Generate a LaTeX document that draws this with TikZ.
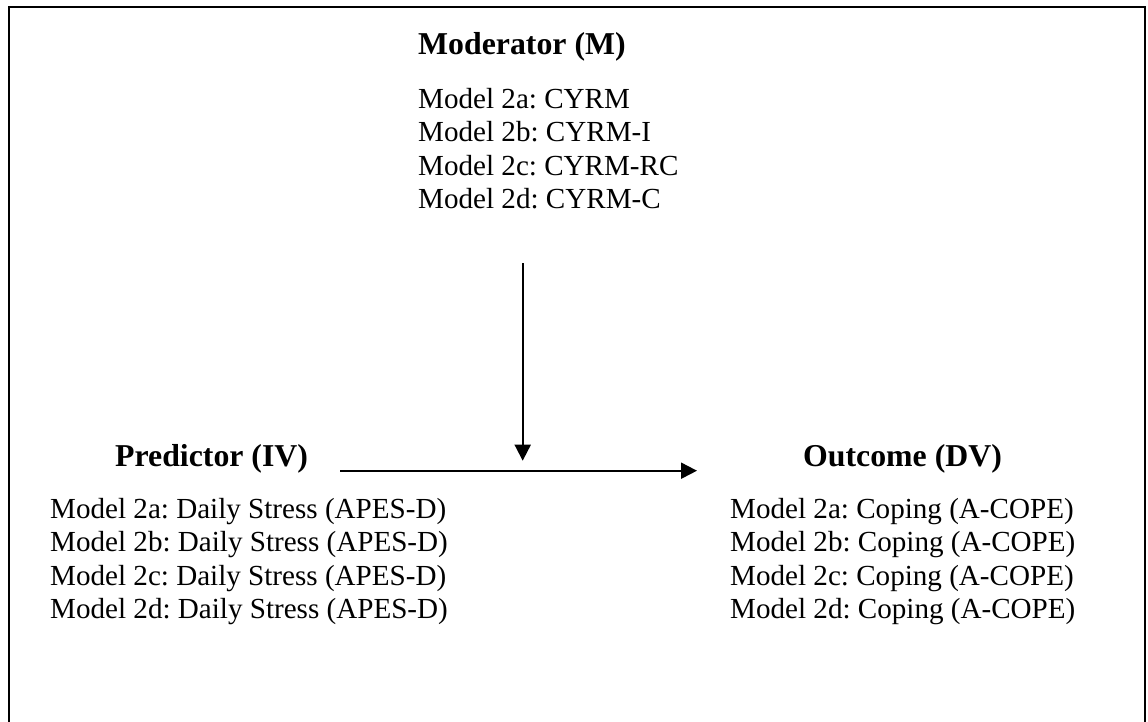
\documentclass[tikz,border=0pt]{standalone}
\usepackage{fontspec}
\setmainfont{Liberation Serif}
\usetikzlibrary{arrows.meta,positioning,calc}
\frenchspacing

\tikzset{
  heading/.style={font=\fontsize{31.8}{38}\selectfont\bfseries, inner sep=0pt, anchor=base west},
  modellist/.style={font=\fontsize{29.1}{33.3}\selectfont, align=left, inner sep=0pt, anchor=north west},
  link/.style={line width=2pt, -{Triangle[length=16pt,width=16pt]}}
}

\begin{document}
\begin{tikzpicture}[x=1pt,y=-1pt]

    \useasboundingbox (0,0) rectangle (1148,722);

    % Frame (runs off the bottom)
    \draw[line width=2pt] (9,722) -- (9,7) -- (1145,7) -- (1145,722);

    % Moderator
    \node[heading] (mod) at (418,55) {Moderator (M)};
    \node[modellist] (modlist) at (418,88.2) {Model 2a: CYRM\\Model 2b: CYRM-I\\Model 2c: CYRM-RC\\Model 2d: CYRM-C};

    % Predictor
    \node[heading] (iv) at (115,466.7) {Predictor (IV)};
    \node[modellist] (ivlist) at (50,498.2) {Model 2a: Daily Stress (APES-D)\\Model 2b: Daily Stress (APES-D)\\Model 2c: Daily Stress (APES-D)\\Model 2d: Daily Stress (APES-D)};

    % Outcome
    \node[heading] (dv) at (803,466.7) {Outcome (DV)};
    \node[modellist] (dvlist) at (730,498.2) {Model 2a: Coping (A-COPE)\\Model 2b: Coping (A-COPE)\\Model 2c: Coping (A-COPE)\\Model 2d: Coping (A-COPE)};

    % Arrows
    \coordinate (ivout) at (340,470.7);
    \coordinate (dvin) at (697,470.7);
    \coordinate (mtop) at (522.7,263);
    \draw[link] (ivout) -- (dvin);
    \draw[link, shorten >=10pt] (mtop) -- (mtop |- ivout);

\end{tikzpicture}
\end{document}
